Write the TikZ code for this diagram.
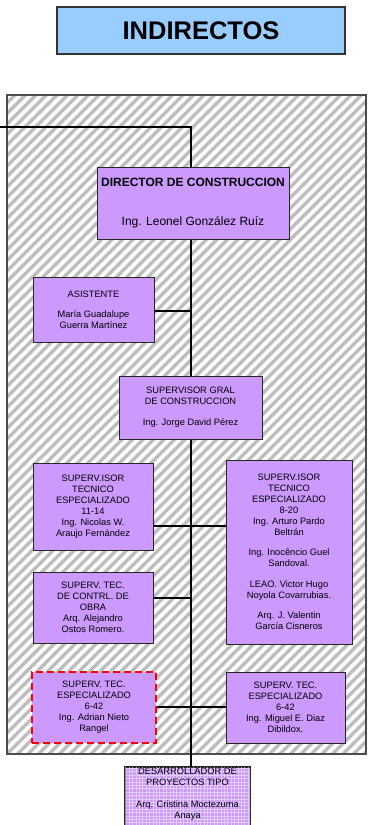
\documentclass[tikz,border=0pt]{standalone}
\usepackage{fontspec}
\setmainfont{Liberation Sans}
\usetikzlibrary{calc}
\definecolor{purp}{HTML}{CC99FF}
\definecolor{ttl}{HTML}{99CCFF}
\definecolor{hatchc}{HTML}{BDBDBD}
\tikzset{
  box/.style={draw=black!85, line width=1pt, fill=purp, align=center, inner sep=0pt,
    font=\fontsize{9.3}{11}\selectfont},
  bigbox/.style={box, font=\fontsize{12}{14}\selectfont},
  redbox/.style={box, draw=red, line width=1.7pt, dash pattern=on 7pt off 4pt},
  conn/.style={draw=black, line width=1.6pt},
  txt/.style={align=center, inner sep=0pt, font=\fontsize{9.3}{11}\selectfont}
}
\begin{document}
\begin{tikzpicture}[x=1pt,y=-1pt]
\useasboundingbox (0,0) rectangle (368,825);
\clip (0,0) rectangle (368,825);
\fill[white] (0,0) rectangle (368,825);
% title
\node[draw=black!80, line width=1.1pt, fill=ttl, minimum width=288pt, minimum height=47pt,
  font=\fontsize{25.5}{30}\selectfont\bfseries] (title) at (201,30.5) {INDIRECTOS};
% hatched area
\begin{scope}
  \clip (7,95) rectangle (366,754);
  \foreach \k in {-665,-654.5,...,375} {
    \draw[hatchc, line width=3.3pt] (\k,754) -- ++(700,-700);
  }
\end{scope}
\draw[black!70, line width=1.3pt] (7,95) rectangle (366,754);
\coordinate (sp) at (191,0);
\coordinate (in) at (0,127);
\coordinate (c1) at (0,526);
\coordinate (c2) at (0,598);
\coordinate (c3) at (0,707);
% boxes
\node[bigbox, minimum width=192pt, minimum height=72pt] (dir) at (193,203)
  {\textbf{DIRECTOR DE CONSTRUCCION}\\[25pt]Ing. Leonel González Ruíz};
\node[box, minimum width=121pt, minimum height=65pt] (asi) at (93.5,309.5)
  {ASISTENTE\\[9pt]María Guadalupe\\Guerra Martínez};
\node[box, minimum width=143pt, minimum height=63pt] (sup) at (190.5,407.5)
  {SUPERVISOR GRAL\\DE CONSTRUCCION\\[10pt]Ing. Jorge David Pérez};
\node[box, minimum width=120pt, minimum height=87pt] (l1) at (93,506.5)
  {SUPERV.ISOR\\TECNICO\\ESPECIALIZADO\\11-14\\Ing. Nicolas W.\\Araujo Fernández};
\node[box, minimum width=126pt, minimum height=184pt] (r1) at (289,552)
  {SUPERV.ISOR\\TECNICO\\ESPECIALIZADO\\8-20\\Ing. Arturo Pardo\\Beltrán\\[9.5pt]Ing. Inocêncio Guel\\Sandoval.\\[9.5pt]LEAO. Victor Hugo\\Noyola Covarrubias.\\[9.5pt]Arq. J. Valentin\\García Cisneros};
\node[box, minimum width=120pt, minimum height=71pt] (l2) at (93,607.5)
  {SUPERV. TEC.\\DE CONTRL. DE\\OBRA\\Arq. Alejandro\\Ostos Romero.};
\node[redbox, minimum width=124pt, minimum height=71pt] (red) at (94,707.5)
  {SUPERV. TEC.\\ESPECIALIZADO\\6-42\\Ing. Adrian Nieto\\Rangel};
\node[box, minimum width=119pt, minimum height=71pt] (r3) at (285.5,707.5)
  {SUPERV. TEC.\\ESPECIALIZADO\\6-42\\Ing. Miguel E. Diaz\\Dibildox.};
\node[box, minimum width=125pt, minimum height=66pt] (des) at (187.5,800) {};
\begin{scope}
  \clip (des.south west) rectangle (des.north east);
  \draw[white, opacity=0.5, line width=0.8pt, step=3.4pt] (des.south west) grid (des.north east);
\end{scope}
\draw[black!85, line width=1pt] (des.south west) rectangle (des.north east);
\node[txt] (desT) at ([yshift=5.5pt]des.center)
  {DESARROLLADOR DE\\PROYECTOS TIPO\\[11pt]Arq. Cristina Moctezuma\\Anaya};
% connectors
\draw[conn] (in) -| (dir.north -| sp);
\draw[conn] (dir.south -| sp) -- (sup.north -| sp);
\draw[conn] ([yshift=-1.5pt]asi.east) -- ([yshift=-1.5pt]asi.east -| sp);
\draw[conn] (sup.south -| sp) -- (des.north -| sp);
\draw[conn] (l1.east |- c1) -- (r1.west |- c1);
\draw[conn] (l2.east |- c2) -- (c2 -| sp);
\draw[conn] (red.east |- c3) -- (r3.west |- c3);
\end{tikzpicture}
\end{document}
